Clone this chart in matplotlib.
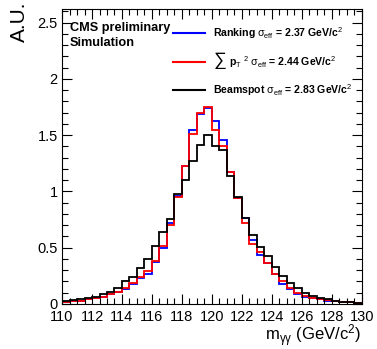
import numpy as np
import matplotlib
matplotlib.use("Agg")
import matplotlib.pyplot as plt
from matplotlib.ticker import MultipleLocator

plt.rcParams['font.family'] = ['Liberation Sans', 'DejaVu Sans']
plt.rcParams['mathtext.fontset'] = 'custom'
plt.rcParams['mathtext.rm'] = 'Liberation Sans'
plt.rcParams['mathtext.it'] = 'Liberation Sans'
plt.rcParams['mathtext.bf'] = 'Liberation Sans:bold'

# m_gg bins: 110..130 GeV, 0.5 GeV wide
bin_lo, bin_hi, bin_w = 110.0, 130.0, 0.5

ranking = [0.02, 0.025, 0.03, 0.04, 0.05, 0.065, 0.085, 0.105, 0.135, 0.18,
           0.23, 0.27, 0.37, 0.50, 0.72, 0.96, 1.23, 1.55, 1.69, 1.74,
           1.63, 1.455, 1.17, 0.94, 0.76, 0.57, 0.435, 0.36, 0.27, 0.175,
           0.13, 0.09, 0.065, 0.05, 0.04, 0.03, 0.025, 0.02, 0.015, 0.01]
sumpt2 = [0.02, 0.025, 0.03, 0.04, 0.05, 0.065, 0.085, 0.11, 0.14, 0.19,
          0.24, 0.29, 0.38, 0.515, 0.70, 0.95, 1.23, 1.51, 1.70, 1.75,
          1.55, 1.40, 1.17, 0.94, 0.72, 0.53, 0.46, 0.36, 0.27, 0.20,
          0.14, 0.095, 0.07, 0.055, 0.04, 0.035, 0.025, 0.02, 0.015, 0.01]
beamspot = [0.025, 0.035, 0.045, 0.055, 0.065, 0.085, 0.11, 0.14, 0.20, 0.24,
            0.32, 0.40, 0.515, 0.64, 0.755, 0.98, 1.10, 1.27, 1.41, 1.50,
            1.40, 1.37, 1.14, 0.95, 0.76, 0.61, 0.51, 0.43, 0.33, 0.25,
            0.19, 0.14, 0.10, 0.07, 0.05, 0.04, 0.03, 0.02, 0.015, 0.01]

labels = [r'Ranking $\sigma_{\mathrm{eff}}$ = 2.37 GeV/c$^{2}$',
          r'p$_{T}$ $^{2}$ $\sigma_{\mathrm{eff}}$ = 2.44 GeV/c$^{2}$',
          r'Beamspot $\sigma_{\mathrm{eff}}$ = 2.83 GeV/c$^{2}$']
colors = ['#0000ff', '#ff0000', '#000000']

edges = np.arange(bin_lo, bin_hi + bin_w / 2, bin_w)

fig = plt.figure(figsize=(3.77, 3.49), dpi=100)
ax = fig.add_axes([0.1645, 0.129, 0.7955, 0.845])

for vals, c in zip([ranking, sumpt2, beamspot], colors):
    ax.stairs(vals, edges, color=c, linewidth=1.3)

ax.set_xlim(bin_lo, bin_hi)
ax.set_ylim(0, 2.62)
ax.xaxis.set_major_locator(MultipleLocator(2))
ax.xaxis.set_minor_locator(MultipleLocator(0.5))
ax.yaxis.set_major_locator(MultipleLocator(0.5))
ax.yaxis.set_minor_locator(MultipleLocator(0.1))
ax.yaxis.set_major_formatter(plt.FuncFormatter(lambda v, p: f"{v:g}"))
ax.tick_params(which='both', direction='in', top=True, right=True, labelsize=10.5, width=0.8)
ax.tick_params(which='major', length=7)
ax.tick_params(which='minor', length=4)
ax.tick_params(axis='x', pad=4)
ax.tick_params(axis='y', pad=3)
for s in ax.spines.values():
    s.set_linewidth(0.8)

fig.text(0.052, 0.995, 'A.U.', rotation=90, ha='center', va='top', fontsize=15)
fig.text(0.957, 0.0, r'm$_{\gamma\gamma}$ (GeV/c$^{2}$)', ha='right', va='bottom', fontsize=12)

fig.text(0.186, 0.92, 'CMS preliminary', fontsize=9.2, fontweight='bold', va='center')
fig.text(0.186, 0.878, 'Simulation', fontsize=9.2, fontweight='bold', va='center')

ys = [0.905, 0.822, 0.742]
for i, (lab, c, y) in enumerate(zip(labels, colors, ys)):
    fig.add_artist(plt.Line2D([0.459, 0.544], [y, y], color=c, linewidth=1.5,
                              transform=fig.transFigure))
    x0 = 0.565
    if i == 1:
        fig.text(x0, y + 0.004, r'$\sum$', fontsize=13, va='center')
        x0 = 0.608
    fig.text(x0, y, lab, fontsize=7.6, fontweight='bold', va='center')

fig.savefig("out.png", dpi=100)
